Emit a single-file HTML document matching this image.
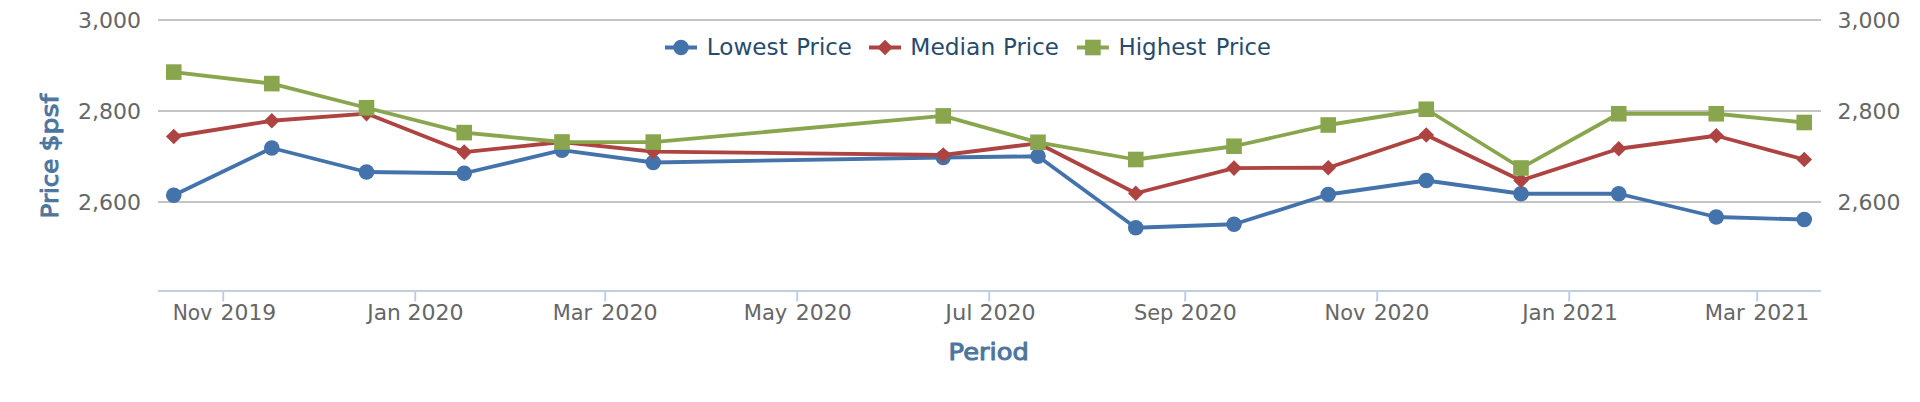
<!DOCTYPE html>
<html lang="en">
<head>
<meta charset="utf-8">
<title>Price $psf by Period</title>
<style>
html,body{margin:0;padding:0;background:#fff;}
body{width:1920px;height:402px;overflow:hidden;}
svg{display:block;}
text{font-family:"DejaVu Sans","Liberation Sans",sans-serif;}
.al{font-size:22px;fill:#666666;}
.at{font-size:23.4px;fill:#4d759e;stroke:#4d759e;stroke-width:1px;stroke-linejoin:round;}
.lg{font-size:23.4px;fill:#274b6d;}
</style>
</head>
<body>
<svg width="1920" height="402" viewBox="0 0 1920 402">
<rect x="0" y="0" width="1920" height="402" fill="#ffffff"/>
<g fill="#C4C4C4">
<rect x="158" y="19" width="1663" height="2"/>
<rect x="158" y="110" width="1663" height="2"/>
<rect x="158" y="201" width="1663" height="2"/>
</g>
<g fill="#C0D0E0">
<rect x="158" y="290" width="1663" height="2"/>
<rect x="222.2" y="291" width="2" height="10.5"/>
<rect x="414.2" y="291" width="2" height="10.5"/>
<rect x="604.2" y="291" width="2" height="10.5"/>
<rect x="796.2" y="291" width="2" height="10.5"/>
<rect x="988.2" y="291" width="2" height="10.5"/>
<rect x="1184.2" y="291" width="2" height="10.5"/>
<rect x="1376.2" y="291" width="2" height="10.5"/>
<rect x="1568.2" y="291" width="2" height="10.5"/>
<rect x="1756.2" y="291" width="2" height="10.5"/>
</g>
<g><path d="M 173.75 195.25 L 271.8 148 L 366.5 172 L 464.2 173.25 L 562 150.2 L 653.25 162.5 L 943.25 157.5 L 1038 156.25 L 1135.75 227.75 L 1234 224.25 L 1328.25 194.5 L 1426.25 180.5 L 1521 193.75 L 1618.75 193.75 L 1716.25 217 L 1804.25 219.5" fill="none" stroke="#4473AC" stroke-width="3.8" stroke-linejoin="round" stroke-linecap="round"/>
<circle cx="173.75" cy="195.25" r="7.8" fill="#4473AC"/>
<circle cx="271.8" cy="148" r="7.8" fill="#4473AC"/>
<circle cx="366.5" cy="172" r="7.8" fill="#4473AC"/>
<circle cx="464.2" cy="173.25" r="7.8" fill="#4473AC"/>
<circle cx="562" cy="150.2" r="7.8" fill="#4473AC"/>
<circle cx="653.25" cy="162.5" r="7.8" fill="#4473AC"/>
<circle cx="943.25" cy="157.5" r="7.8" fill="#4473AC"/>
<circle cx="1038" cy="156.25" r="7.8" fill="#4473AC"/>
<circle cx="1135.75" cy="227.75" r="7.8" fill="#4473AC"/>
<circle cx="1234" cy="224.25" r="7.8" fill="#4473AC"/>
<circle cx="1328.25" cy="194.5" r="7.8" fill="#4473AC"/>
<circle cx="1426.25" cy="180.5" r="7.8" fill="#4473AC"/>
<circle cx="1521" cy="193.75" r="7.8" fill="#4473AC"/>
<circle cx="1618.75" cy="193.75" r="7.8" fill="#4473AC"/>
<circle cx="1716.25" cy="217" r="7.8" fill="#4473AC"/>
<circle cx="1804.25" cy="219.5" r="7.8" fill="#4473AC"/>
</g>
<g><path d="M 173.75 136.5 L 271.8 120.75 L 366.5 113.6 L 464.2 152.1 L 562 142 L 653.25 151.6 L 943.25 155 L 1038 143.3 L 1135.75 193.25 L 1234 168.1 L 1328.25 167.75 L 1426.25 135 L 1521 180.5 L 1618.75 148.75 L 1716.25 135.75 L 1804.25 159.5" fill="none" stroke="#AE4442" stroke-width="3.8" stroke-linejoin="round" stroke-linecap="round"/>
<path d="M 173.75 128.7 L 181.55 136.5 L 173.75 144.3 L 165.95 136.5 Z" fill="#AE4442"/>
<path d="M 271.8 112.95 L 279.6 120.75 L 271.8 128.55 L 264 120.75 Z" fill="#AE4442"/>
<path d="M 366.5 105.8 L 374.3 113.6 L 366.5 121.4 L 358.7 113.6 Z" fill="#AE4442"/>
<path d="M 464.2 144.3 L 472 152.1 L 464.2 159.9 L 456.4 152.1 Z" fill="#AE4442"/>
<path d="M 562 134.2 L 569.8 142 L 562 149.8 L 554.2 142 Z" fill="#AE4442"/>
<path d="M 653.25 143.8 L 661.05 151.6 L 653.25 159.4 L 645.45 151.6 Z" fill="#AE4442"/>
<path d="M 943.25 147.2 L 951.05 155 L 943.25 162.8 L 935.45 155 Z" fill="#AE4442"/>
<path d="M 1038 135.5 L 1045.8 143.3 L 1038 151.1 L 1030.2 143.3 Z" fill="#AE4442"/>
<path d="M 1135.75 185.45 L 1143.55 193.25 L 1135.75 201.05 L 1127.95 193.25 Z" fill="#AE4442"/>
<path d="M 1234 160.3 L 1241.8 168.1 L 1234 175.9 L 1226.2 168.1 Z" fill="#AE4442"/>
<path d="M 1328.25 159.95 L 1336.05 167.75 L 1328.25 175.55 L 1320.45 167.75 Z" fill="#AE4442"/>
<path d="M 1426.25 127.2 L 1434.05 135 L 1426.25 142.8 L 1418.45 135 Z" fill="#AE4442"/>
<path d="M 1521 172.7 L 1528.8 180.5 L 1521 188.3 L 1513.2 180.5 Z" fill="#AE4442"/>
<path d="M 1618.75 140.95 L 1626.55 148.75 L 1618.75 156.55 L 1610.95 148.75 Z" fill="#AE4442"/>
<path d="M 1716.25 127.95 L 1724.05 135.75 L 1716.25 143.55 L 1708.45 135.75 Z" fill="#AE4442"/>
<path d="M 1804.25 151.7 L 1812.05 159.5 L 1804.25 167.3 L 1796.45 159.5 Z" fill="#AE4442"/>
</g>
<g><path d="M 173.75 72.1 L 271.8 83.6 L 366.5 107.75 L 464.2 132.6 L 562 142 L 653.25 142.1 L 943.25 115.9 L 1038 142.3 L 1135.75 159.5 L 1234 146.25 L 1328.25 125 L 1426.25 109.25 L 1521 168 L 1618.75 113.75 L 1716.25 113.75 L 1804.25 122.5" fill="none" stroke="#89A64E" stroke-width="3.8" stroke-linejoin="round" stroke-linecap="round"/>
<rect x="165.95" y="64.3" width="15.6" height="15.6" fill="#89A64E"/>
<rect x="264" y="75.8" width="15.6" height="15.6" fill="#89A64E"/>
<rect x="358.7" y="99.95" width="15.6" height="15.6" fill="#89A64E"/>
<rect x="456.4" y="124.8" width="15.6" height="15.6" fill="#89A64E"/>
<rect x="554.2" y="134.2" width="15.6" height="15.6" fill="#89A64E"/>
<rect x="645.45" y="134.3" width="15.6" height="15.6" fill="#89A64E"/>
<rect x="935.45" y="108.1" width="15.6" height="15.6" fill="#89A64E"/>
<rect x="1030.2" y="134.5" width="15.6" height="15.6" fill="#89A64E"/>
<rect x="1127.95" y="151.7" width="15.6" height="15.6" fill="#89A64E"/>
<rect x="1226.2" y="138.45" width="15.6" height="15.6" fill="#89A64E"/>
<rect x="1320.45" y="117.2" width="15.6" height="15.6" fill="#89A64E"/>
<rect x="1418.45" y="101.45" width="15.6" height="15.6" fill="#89A64E"/>
<rect x="1513.2" y="160.2" width="15.6" height="15.6" fill="#89A64E"/>
<rect x="1610.95" y="105.95" width="15.6" height="15.6" fill="#89A64E"/>
<rect x="1708.45" y="105.95" width="15.6" height="15.6" fill="#89A64E"/>
<rect x="1796.45" y="114.7" width="15.6" height="15.6" fill="#89A64E"/>
</g>
<text class="al" x="141" y="28" text-anchor="end">3,000</text>
<text class="al" x="1837.5" y="28">3,000</text>
<text class="al" x="141" y="119" text-anchor="end">2,800</text>
<text class="al" x="1837.5" y="119">2,800</text>
<text class="al" x="141" y="210" text-anchor="end">2,600</text>
<text class="al" x="1837.5" y="210">2,600</text>
<text class="al" y="320"><tspan x="172.71" textLength="39.49" lengthAdjust="spacingAndGlyphs">Nov</tspan> <tspan x="220.60" textLength="55.64" lengthAdjust="spacingAndGlyphs">2019</tspan></text>
<text class="al" y="320"><tspan x="367.23" textLength="33.57" lengthAdjust="spacingAndGlyphs">Jan</tspan> <tspan x="407.43" textLength="56.24" lengthAdjust="spacingAndGlyphs">2020</tspan></text>
<text class="al" y="320"><tspan x="552.75" textLength="39.45" lengthAdjust="spacingAndGlyphs">Mar</tspan> <tspan x="601.17" textLength="56.50" lengthAdjust="spacingAndGlyphs">2020</tspan></text>
<text class="al" y="320"><tspan x="743.73" textLength="43.60" lengthAdjust="spacingAndGlyphs">May</tspan> <tspan x="795.69" textLength="55.97" lengthAdjust="spacingAndGlyphs">2020</tspan></text>
<text class="al" y="320"><tspan x="945.27" textLength="27.30" lengthAdjust="spacingAndGlyphs">Jul</tspan> <tspan x="979.43" textLength="56.24" lengthAdjust="spacingAndGlyphs">2020</tspan></text>
<text class="al" y="320"><tspan x="1133.92" textLength="39.42" lengthAdjust="spacingAndGlyphs">Sep</tspan> <tspan x="1180.68" textLength="56.24" lengthAdjust="spacingAndGlyphs">2020</tspan></text>
<text class="al" y="320"><tspan x="1324.50" textLength="40.83" lengthAdjust="spacingAndGlyphs">Nov</tspan> <tspan x="1373.70" textLength="55.71" lengthAdjust="spacingAndGlyphs">2020</tspan></text>
<text class="al" y="320"><tspan x="1522.21" textLength="33.06" lengthAdjust="spacingAndGlyphs">Jan</tspan> <tspan x="1562.45" textLength="55.51" lengthAdjust="spacingAndGlyphs">2021</tspan></text>
<text class="al" y="320"><tspan x="1704.72" textLength="39.98" lengthAdjust="spacingAndGlyphs">Mar</tspan> <tspan x="1753.19" textLength="56.05" lengthAdjust="spacingAndGlyphs">2021</tspan></text>
<text class="at" x="948.6" y="359.5" textLength="80.2" lengthAdjust="spacingAndGlyphs">Period</text>
<text class="at" transform="translate(57.5 0) rotate(-90)" y="0"><tspan x="-218.5" textLength="60" lengthAdjust="spacingAndGlyphs">Price</tspan> <tspan x="-151.5" textLength="57.5" lengthAdjust="spacingAndGlyphs">$psf</tspan></text>
<rect x="665" y="45.5" width="32" height="4" fill="#4473AC"/>
<circle cx="681" cy="47.5" r="7.8" fill="#4473AC"/>
<text class="lg" y="55"><tspan x="706.79" textLength="80.96" lengthAdjust="spacingAndGlyphs">Lowest</tspan> <tspan x="796.18" textLength="55.63" lengthAdjust="spacingAndGlyphs">Price</tspan></text>
<rect x="869" y="45.5" width="32" height="4" fill="#AE4442"/>
<path d="M 885 39.7 L 892.8 47.5 L 885 55.3 L 877.2 47.5 Z" fill="#AE4442"/>
<text class="lg" y="55"><tspan x="910.26" textLength="84.93" lengthAdjust="spacingAndGlyphs">Median</tspan> <tspan x="1003.07" textLength="55.73" lengthAdjust="spacingAndGlyphs">Price</tspan></text>
<rect x="1076.9" y="45.5" width="32" height="4" fill="#89A64E"/>
<rect x="1085.1" y="39.7" width="15.6" height="15.6" fill="#89A64E"/>
<text class="lg" y="55"><tspan x="1118.45" textLength="87.80" lengthAdjust="spacingAndGlyphs">Highest</tspan> <tspan x="1215.85" textLength="55.04" lengthAdjust="spacingAndGlyphs">Price</tspan></text>
</svg>
</body>
</html>
